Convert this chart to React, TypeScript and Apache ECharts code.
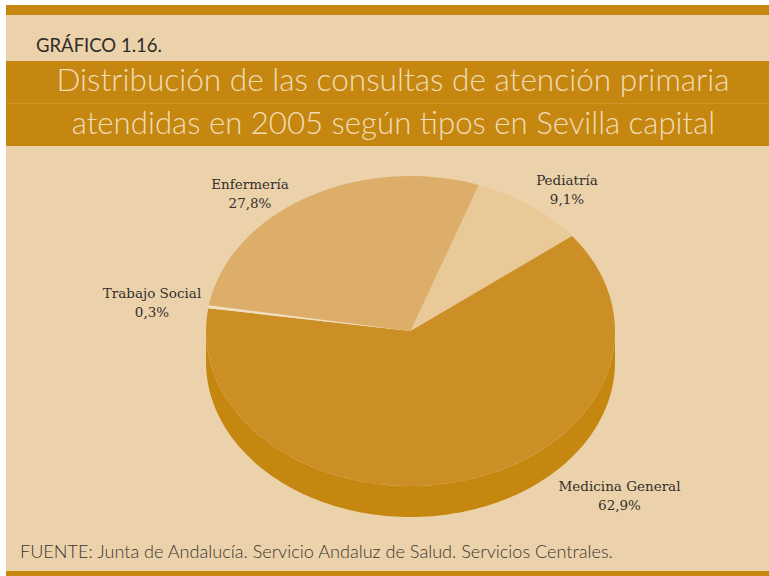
import React, { useEffect, useRef } from "react";
import * as echarts from "echarts";

const categories = ["Pediatría", "Medicina General", "Trabajo Social", "Enfermería"];
const values = [9.1, 62.9, 0.3, 27.8];
const valueLabels = ["9,1%", "62,9%", "0,3%", "27,8%"];
const sliceColors = ["#e9c998", "#cc8f25", "#f2dfc2", "#dcae6a"];
const labelAnchors = [
  [567, 189.5],
  [619.5, 495],
  [152, 302],
  [250, 193.5],
];
const titleLines = [
  "Distribución de las consultas de atención primaria",
  "atendidas en 2005 según tipos en Sevilla capital",
];
const chartTag = "GRÁFICO 1.16.";
const sourceNote = "FUENTE: Junta de Andalucía. Servicio Andaluz de Salud. Servicios Centrales.";

const BG = "#ecd2aa";
const BAND = "#c5870f";
const CX = 410.5;
const CY = 331;
const RX = 204.5;
const RY = 155;
const DEPTH = 31;
const START = ((19.5 - 90) * Math.PI) / 180;
const TOTAL = values.reduce((a, b) => a + b, 0);

function sliceAngles(i: number): [number, number] {
  let acc = 0;
  for (let k = 0; k < i; k++) acc += values[k];
  const a0 = START + (acc / TOTAL) * Math.PI * 2;
  const a1 = a0 + (values[i] / TOTAL) * Math.PI * 2;
  return [a0, a1];
}

function renderDepth(_: any, api: any) {
  const i = api.value(0);
  const [a0, a1] = sliceAngles(i);
  const lo = Math.max(a0, 0);
  const hi = Math.min(a1, Math.PI);
  if (hi <= lo) return { type: "group", children: [] };
  const pts: number[][] = [];
  const n = 120;
  for (let k = 0; k <= n; k++) {
    const t = lo + ((hi - lo) * k) / n;
    pts.push([CX + RX * Math.cos(t), CY + RY * Math.sin(t)]);
  }
  for (let k = n; k >= 0; k--) {
    const t = lo + ((hi - lo) * k) / n;
    pts.push([CX + RX * Math.cos(t), CY + DEPTH + RY * Math.sin(t)]);
  }
  return { type: "polygon", shape: { points: pts }, style: { fill: BAND } };
}

function renderTop(_: any, api: any) {
  const i = api.value(0);
  const [a0, a1] = sliceAngles(i);
  return {
    type: "sector",
    x: CX,
    y: CY,
    scaleY: RY / RX,
    shape: { cx: 0, cy: 0, r0: 0, r: RX, startAngle: a0, endAngle: a1, clockwise: true },
    style: { fill: sliceColors[i] },
  };
}

function renderLabel(_: any, api: any) {
  const i = api.value(0);
  const [x, y] = labelAnchors[i];
  return {
    type: "text",
    x,
    y,
    style: {
      text: categories[i] + "\n" + valueLabels[i],
      fill: "#33302c",
      font: '13.5px "DejaVu Serif"',
      lineHeight: 19,
      align: "center",
      verticalAlign: "middle",
    },
  };
}

export default function App() {
  const ref = useRef<HTMLDivElement>(null);
  useEffect(() => {
    const chart = echarts.init(ref.current!, null, { renderer: "svg" });
    const seriesData = values.map((v, i) => ({ name: categories[i], value: [i, v] }));
    const rect = (x: number, y: number, width: number, height: number, fill: string, z = 0) => ({
      type: "rect",
      z,
      shape: { x, y, width, height },
      style: { fill },
      silent: true,
    });
    chart.setOption({
      animation: false,
      backgroundColor: "#ffffff",
      title: [
        { text: chartTag, left: 36, top: 35, padding: 0, textStyle: { fontFamily: "Lato", fontSize: 18.5, fontWeight: 400, color: "#2e2b28" } },
        { text: titleLines[0], left: 393, top: 63, padding: 0, textAlign: "center", textStyle: { fontFamily: "Lato", fontSize: 31.6, fontWeight: 300, color: "#f1dcb8" } },
        { text: titleLines[1], left: 393.5, top: 106, padding: 0, textAlign: "center", textStyle: { fontFamily: "Lato", fontSize: 31.2, fontWeight: 300, color: "#f1dcb8" } },
        { text: sourceNote, left: 20, top: 542, padding: 0, textStyle: { fontFamily: "Lato", fontSize: 18.1, fontWeight: 300, color: "#3a3632" } },
      ],
      xAxis: { show: false, min: 0, max: 1 },
      yAxis: { show: false, min: 0, max: 1 },
      grid: { left: 0, right: 0, top: 0, bottom: 0 },
      graphic: [
        rect(6, 5, 763, 571, BG, -10),
        rect(6, 5, 763, 10, BAND, -9),
        rect(6, 61, 763, 85, BAND, -9),
        rect(6, 103, 763, 1, "#cf9426", -8),
        rect(6, 571, 763, 5, BAND, -9),
      ],
      series: [
        { type: "custom", silent: true, z: 2, data: seriesData, renderItem: renderDepth, coordinateSystem: "none", encode: { value: [0, 1] } },
        { type: "custom", silent: true, z: 3, data: seriesData, renderItem: renderTop, coordinateSystem: "none", encode: { value: [0, 1] } },
        { type: "custom", silent: true, z: 4, data: seriesData, renderItem: renderLabel, coordinateSystem: "none", encode: { value: [0, 1] } },
      ],
    });
    return () => chart.dispose();
  }, []);
  return <div ref={ref} style={{ position: "fixed", left: 0, top: 0, width: 769, height: 576 }} />;
}
